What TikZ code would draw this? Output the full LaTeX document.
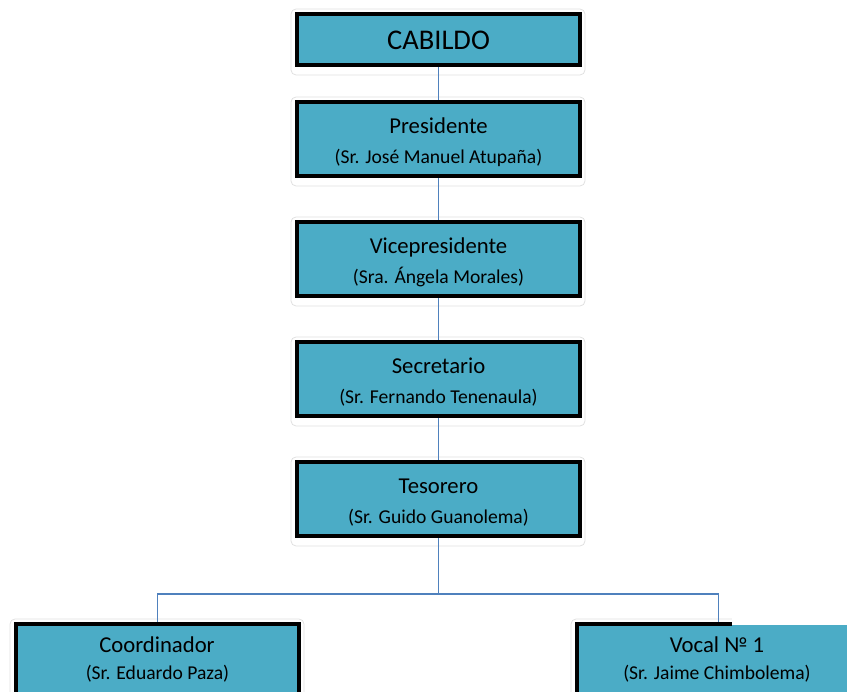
\documentclass[tikz,border=0pt]{standalone}
\usepackage{fontspec}
\setmainfont{Carlito}
\usetikzlibrary{calc}
\definecolor{boxfill}{HTML}{4BACC6}
\definecolor{linkblue}{HTML}{4F81BD}
\tikzset{
  orgbox/.style={draw=black, line width=4pt, fill=boxfill, minimum width=283pt,
    minimum height=74pt, inner sep=0pt},
  glow/.style={draw=black!12, line width=0.8pt, rounded corners=5pt},
  link/.style={draw=linkblue, line width=1.5pt},
  titletxt/.style={anchor=base, inner sep=0pt, font=\fontsize{22.7}{27}\selectfont},
  bigtxt/.style={anchor=base, inner sep=0pt, font=\fontsize{28.5}{33}\selectfont},
  subtxt/.style={anchor=base, inner sep=0pt, font=\fontsize{19.6}{23}\selectfont},
}
\begin{document}
\begin{tikzpicture}[x=1pt,y=-1pt]
\useasboundingbox (0,0) rectangle (847,692);
\clip (0,0) rectangle (847,692);
% boxes
\node[orgbox, minimum height=51pt] (cab) at (438.5,39.5) {};
\node[orgbox] (pres) at (438.5,139) {};
\node[orgbox] (vice) at (438.5,259) {};
\node[orgbox] (secr) at (438.5,379) {};
\node[orgbox] (teso) at (438.5,499) {};
\node[orgbox] (coord) at (157.5,661) {};
\node[orgbox] (vocal) at (718.5,661) {};
% soft outlines
\foreach \n in {cab,pres,vice,secr,teso,coord,vocal}
  \draw[glow] ($(\n.north west)+(-4,-3)$) rectangle ($(\n.south east)+(3,8)$);
% connectors
\draw[link] (cab.south) -- (pres.north);
\draw[link] (pres.south) -- (vice.north);
\draw[link] (vice.south) -- (secr.north);
\draw[link] (secr.south) -- (teso.north);
\coordinate (split) at (438.5,594);
\draw[link] (teso.south) -- (split);
\draw[link] (split) -| (coord.north);
\draw[link] (split) -| (vocal.north);
% patch over the right part of the last box
\fill[white] (732,612) rectangle (847,625);
\fill[boxfill] (732,625) rectangle (847,692);
% texts
\node[bigtxt] (cabT) at (438.5,50) {CABILDO};
\node[titletxt] (presT) at ($(pres.center)+(0,-5.5)$) {Presidente};
\node[subtxt] (presS) at ($(pres.center)+(0,24.5)$) {(Sr. José Manuel Atupaña)};
\node[titletxt] (viceT) at ($(vice.center)+(0,-5.5)$) {Vicepresidente};
\node[subtxt] (viceS) at ($(vice.center)+(0,24.5)$) {(Sra. Ángela Morales)};
\node[titletxt] (secrT) at ($(secr.center)+(0,-5.5)$) {Secretario};
\node[subtxt] (secrS) at ($(secr.center)+(0,24.5)$) {(Sr. Fernando Tenenaula)};
\node[titletxt] (tesoT) at ($(teso.center)+(0,-5.5)$) {Tesorero};
\node[subtxt] (tesoS) at ($(teso.center)+(0,24.5)$) {(Sr. Guido Guanolema)};
\node[titletxt] (coordT) at (157,652.7) {Coordinador};
\node[subtxt] (coordS) at (157.5,680) {(Sr. Eduardo Paza)};
\node[titletxt] (vocalT) at (717,652.7) {Vocal № 1};
\node[subtxt] (vocalS) at (717,679) {(Sr. Jaime Chimbolema)};
\end{tikzpicture}
\end{document}
